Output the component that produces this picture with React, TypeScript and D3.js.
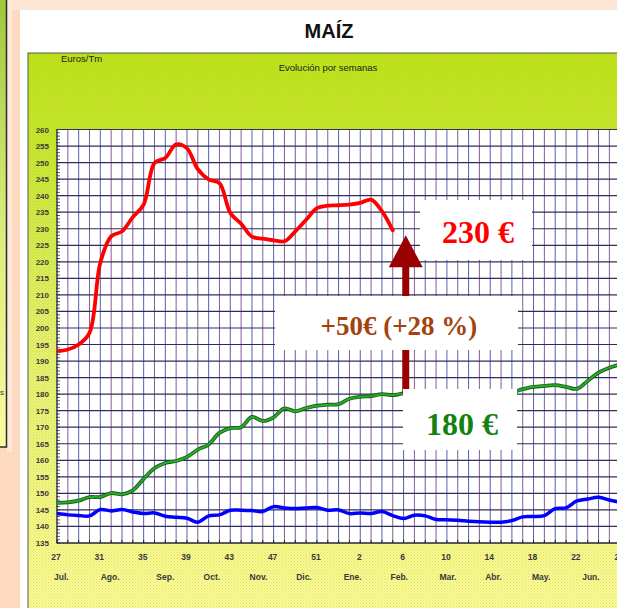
import React from "react";
import * as d3 from "d3";

const redSeries = [193, 193.5, 195, 198.5, 219.7, 227.7, 229.2, 233.5, 237.3, 249.9, 251.4, 255.5, 254.3, 248, 244.9, 243.8, 234.8, 231.5, 227.6, 227, 226.5, 226.2, 229.2, 232.7, 236.2, 237, 237.1, 237.3, 237.8, 238.8, 235.3, 229.5];
const greenSeries = [147.1, 147.3, 147.8, 148.9, 148.9, 150.1, 149.7, 150.9, 154.4, 157.6, 159.2, 159.8, 161, 163.2, 164.8, 168.3, 169.7, 170, 173.1, 171.9, 173, 175.7, 174.8, 175.8, 176.5, 176.8, 177, 178.6, 179.2, 179.4, 180, 179.7, 180.2,
  180.2, 180.4, 180.3, 180.5, 180.6, 180.5, 180.7, 180.6, 180.5, 180.6,
  181.5, 182.2, 182.5, 182.7, 182.2, 181.6, 184, 186.5, 188, 189];
const blueSeries = [143.9, 143.5, 143.3, 143.2, 145.1, 144.7, 145.1, 144.4, 143.9, 144.1, 143.1, 142.8, 142.5, 141.3, 143.2, 143.5, 144.9, 144.9, 144.8, 144.5, 146, 145.6, 145.4, 145.6, 145.7, 144.9, 145, 143.9, 144.1, 143.9, 144.5, 143.3, 142.4, 143.4, 143.2, 142.1, 142, 141.9, 141.6, 141.4, 141.3, 141.3, 141.8, 142.9, 143, 143.3, 145.4, 145.6, 147.7, 148.3, 148.8, 148, 147.3];

const weekLabels = ["27", "31", "35", "39", "43", "47", "51", "2", "6", "10", "14", "18", "22", "26"];
const monthLabels = ["Jul.", "Ago.", "Sep.", "Oct.", "Nov.", "Dic.", "Ene.", "Feb.", "Mar.", "Abr.", "May.", "Jun."];
const monthPos = [0.4, 4.9, 10, 14.3, 18.6, 22.8, 27.3, 31.6, 36.1, 40.3, 44.7, 49.3];
const yTicks = d3.range(135, 261, 5);

const title = "MAÍZ";
const unitLabel = "Euros/Tm";
const subTitle = "Evolución por semanas";
const priceNow = "230 €";
const priceBefore = "180 €";
const diffLabel = "+50€ (+28 %)";
const arrowFrom = 180;
const arrowTip = 228;

export default function App() {
  const plotL = 57, plotT = 129.5, plotB = 543;
  const x = d3.scaleLinear().domain([0, 52]).range([57, 620.2]);
  const y = d3.scaleLinear().domain([135, 260]).range([plotB, plotT]);
  const line = d3.line<number>().x((_, i) => x(i)).y((d) => y(d)).curve(d3.curveCatmullRom.alpha(0.5));
  const weeksIdx = d3.range(0, 56);
  const minor = d3.range(135, 261, 1);
  const serif = "'Liberation Serif', 'Times New Roman', serif";
  const sans = "'Liberation Sans', Arial, sans-serif";
  const ax = x(32.2);
  const tipY = y(arrowTip);
  const headBase = tipY + 32;

  return (
    <svg width={617} height={608} style={{ position: "absolute", left: 0, top: 0 }} xmlns="http://www.w3.org/2000/svg">
      <defs>
        <linearGradient id="boxg" x1="0" y1="53" x2="0" y2="608" gradientUnits="userSpaceOnUse">
          <stop offset="0" stopColor="#bde418" />
          <stop offset="0.15" stopColor="#c6e82c" />
          <stop offset="0.5" stopColor="#e4f16c" />
          <stop offset="1" stopColor="#fcfc96" />
        </linearGradient>
        <linearGradient id="leftg" x1="0" y1="0" x2="0" y2="447" gradientUnits="userSpaceOnUse">
          <stop offset="0" stopColor="#9ec83c" />
          <stop offset="0.5" stopColor="#d9ec7a" />
          <stop offset="1" stopColor="#fafaa0" />
        </linearGradient>
        <pattern id="dither" width="3" height="3" patternUnits="userSpaceOnUse">
          <rect x="0" y="0" width="1" height="1" fill="#e88a3a" opacity="0.35" />
          <rect x="1.5" y="1.5" width="1" height="1" fill="#40c000" opacity="0.25" />
        </pattern>
        <clipPath id="plotclip">
          <rect x={plotL} y={plotT - 2} width={617 - plotL} height={plotB - plotT + 4} />
        </clipPath>
      </defs>

      {/* page background */}
      <rect x={0} y={0} width={617} height={608} fill="#fcd9bf" />
      <rect x={7} y={0} width={610} height={10} fill="#fde6d6" />
      <rect x={7} y={0} width={5} height={452} fill="#fde9dc" />
      <rect x={-2} y={-2} width={8.5} height={449} fill="url(#leftg)" stroke="#2b2b2b" strokeWidth={1.5} />
      <text x={0} y={395} fontFamily={sans} fontSize={8} fill="#333">s</text>

      {/* white card */}
      <rect x={20} y={10} width={600} height={600} fill="#ffffff" />
      <text x={329} y={38} textAnchor="middle" fontFamily={sans} fontSize={20} fontWeight="bold" fill="#111">{title}</text>

      {/* chart box */}
      <rect x={28} y={53} width={600} height={560} fill="url(#boxg)" stroke="#555" strokeWidth={1} />
      <rect x={28} y={53} width={600} height={560} fill="url(#dither)" />
      <text x={61} y={62} fontFamily={sans} fontSize={9.5} fill="#222">{unitLabel}</text>
      <text x={328} y={71} textAnchor="middle" fontFamily={sans} fontSize={9.5} fill="#222">{subTitle}</text>

      {/* plot area */}
      <rect x={plotL} y={plotT} width={617 - plotL} height={plotB - plotT} fill="#ffffff" />
      <g>
        {weeksIdx.map((i) => (
          <line key={"v" + i} x1={x(i)} x2={x(i)} y1={plotT} y2={plotB} stroke={i % 2 === 0 ? "#4b4ba5" : "#7a4a88"} strokeWidth={0.9} />
        ))}
        {yTicks.map((t) => (
          <line key={"h" + t} x1={plotL} x2={617} y1={y(t)} y2={y(t)} stroke="#2e2e5a" strokeWidth={1.2} />
        ))}
        {minor.map((t) => (
          <line key={"m" + t} x1={plotL - 1} x2={plotL + 3} y1={y(t)} y2={y(t)} stroke="#333" strokeWidth={0.8} />
        ))}
        <line x1={plotL} x2={plotL} y1={plotT} y2={plotB} stroke="#333" strokeWidth={1} />
        <line x1={plotL} x2={617} y1={plotB} y2={plotB} stroke="#222" strokeWidth={1.2} />
        {weeksIdx.map((i) => (
          <line key={"xt" + i} x1={x(i)} x2={x(i)} y1={plotB - 3} y2={plotB} stroke="#222" strokeWidth={1} />
        ))}
      </g>

      {/* axis labels */}
      {yTicks.map((t) => (
        <text key={"yl" + t} x={49} y={y(t) + 3} textAnchor="end" fontFamily={sans} fontSize={8} fontWeight="bold" fill="#3a3a3a">{t}</text>
      ))}
      {weekLabels.map((w, i) => (
        <text key={"wl" + i} x={x(i * 4) - 1} y={560} textAnchor="middle" fontFamily={sans} fontSize={8.5} fontWeight="bold" fill="#3a3a3a">{w}</text>
      ))}
      {monthLabels.map((m, i) => (
        <text key={"ml" + i} x={x(monthPos[i])} y={580} textAnchor="middle" fontFamily={sans} fontSize={8.5} fontWeight="bold" fill="#3a3a3a">{m}</text>
      ))}

      {/* series */}
      <g clipPath="url(#plotclip)" fill="none" strokeLinejoin="round" strokeLinecap="round">
        <path d={line(blueSeries) || ""} stroke="#0000ff" strokeWidth={3.5} />
        <path d={line(greenSeries) || ""} stroke="#1d5a1d" strokeWidth={3.8} />
        <path d={line(greenSeries) || ""} stroke="#22b022" strokeWidth={2} />
        <path d={line(redSeries) || ""} stroke="#ff0000" strokeWidth={3.8} />
      </g>

      {/* arrow */}
      <rect x={ax - 3.5} y={headBase - 1} width={7} height={y(arrowFrom) - headBase + 1} fill="#9a0000" />
      <path d={`M${ax},${tipY} L${ax + 17},${headBase} L${ax - 17},${headBase} Z`} fill="#9a0000" />

      {/* annotation boxes */}
      <rect x={420} y={200} width={112} height={60} fill="#ffffff" />
      <text x={478} y={243} textAnchor="middle" fontFamily={serif} fontSize={32} fontWeight="bold" fill="#ff0000">{priceNow}</text>

      <rect x={275} y={296} width={243} height={54} fill="#ffffff" />
      <text x={399} y={335} textAnchor="middle" fontFamily={serif} fontSize={27} fontWeight="bold" fill="#a3420c">{diffLabel}</text>

      <rect x={403} y={389} width={114} height={61} fill="#ffffff" />
      <text x={462} y={435} textAnchor="middle" fontFamily={serif} fontSize={32} fontWeight="bold" fill="#128212">{priceBefore}</text>
    </svg>
  );
}
